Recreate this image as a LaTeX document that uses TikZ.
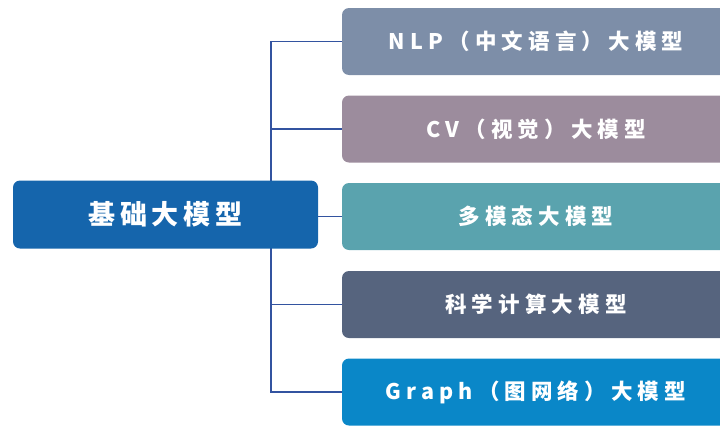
\documentclass[tikz,border=0pt]{standalone}
\usepackage{fontspec}
\newfontfamily\cjkleft[LetterSpace=18]{Noto Sans CJK SC}
\newfontfamily\cjkright[LetterSpace=24]{Noto Sans CJK SC}
\usetikzlibrary{backgrounds}
\definecolor{leftblue}{HTML}{1565AC}
\definecolor{cA}{HTML}{7D8EA8}
\definecolor{cB}{HTML}{9C8C9D}
\definecolor{cC}{HTML}{5AA3AE}
\definecolor{cD}{HTML}{56647E}
\definecolor{cE}{HTML}{0A87C8}
\definecolor{conncol}{HTML}{3353A0}
\tikzset{
  rootbox/.style={fill=leftblue, rounded corners=7pt, minimum width=305pt, minimum height=68pt, inner sep=0pt, text=white, font=\cjkleft\bfseries\fontsize{27}{30}\selectfont},
  leafbox/.style={rounded corners=7pt, minimum width=388pt, minimum height=67pt, inner sep=0pt, text=white, font=\cjkright\bfseries\fontsize{21.5}{26}\selectfont},
  conn/.style={draw=conncol, line width=1.5pt}
}
\begin{document}
\begin{tikzpicture}[x=1pt,y=-1pt]
\useasboundingbox (0,0) rectangle (720,426);
\node[rootbox] (root) at (165.5,214.5) {基础大模型};
\node[leafbox, fill=cA] (r1) at (536,41.5) {NLP（中文语言）大模型};
\node[leafbox, fill=cB] (r2) at (536,129) {CV（视觉）大模型};
\node[leafbox, fill=cC] (r3) at (536,216.5) {多模态大模型};
\node[leafbox, fill=cD] (r4) at (536,304.5) {科学计算大模型};
\node[leafbox, fill=cE] (r5) at (536,392) {Graph（图网络）大模型};
\begin{scope}[on background layer]
\draw[conn] (r1.west) -- ++(-71,0) coordinate (t1) -- (t1 |- r5.west) -- (r5.west);
\draw[conn] (r2.west) -- (r2.west -| t1);
\draw[conn] (r4.west) -- (r4.west -| t1);
\draw[conn] (root.east |- r3.west) -- (r3.west);
\end{scope}
\end{tikzpicture}
\end{document}
